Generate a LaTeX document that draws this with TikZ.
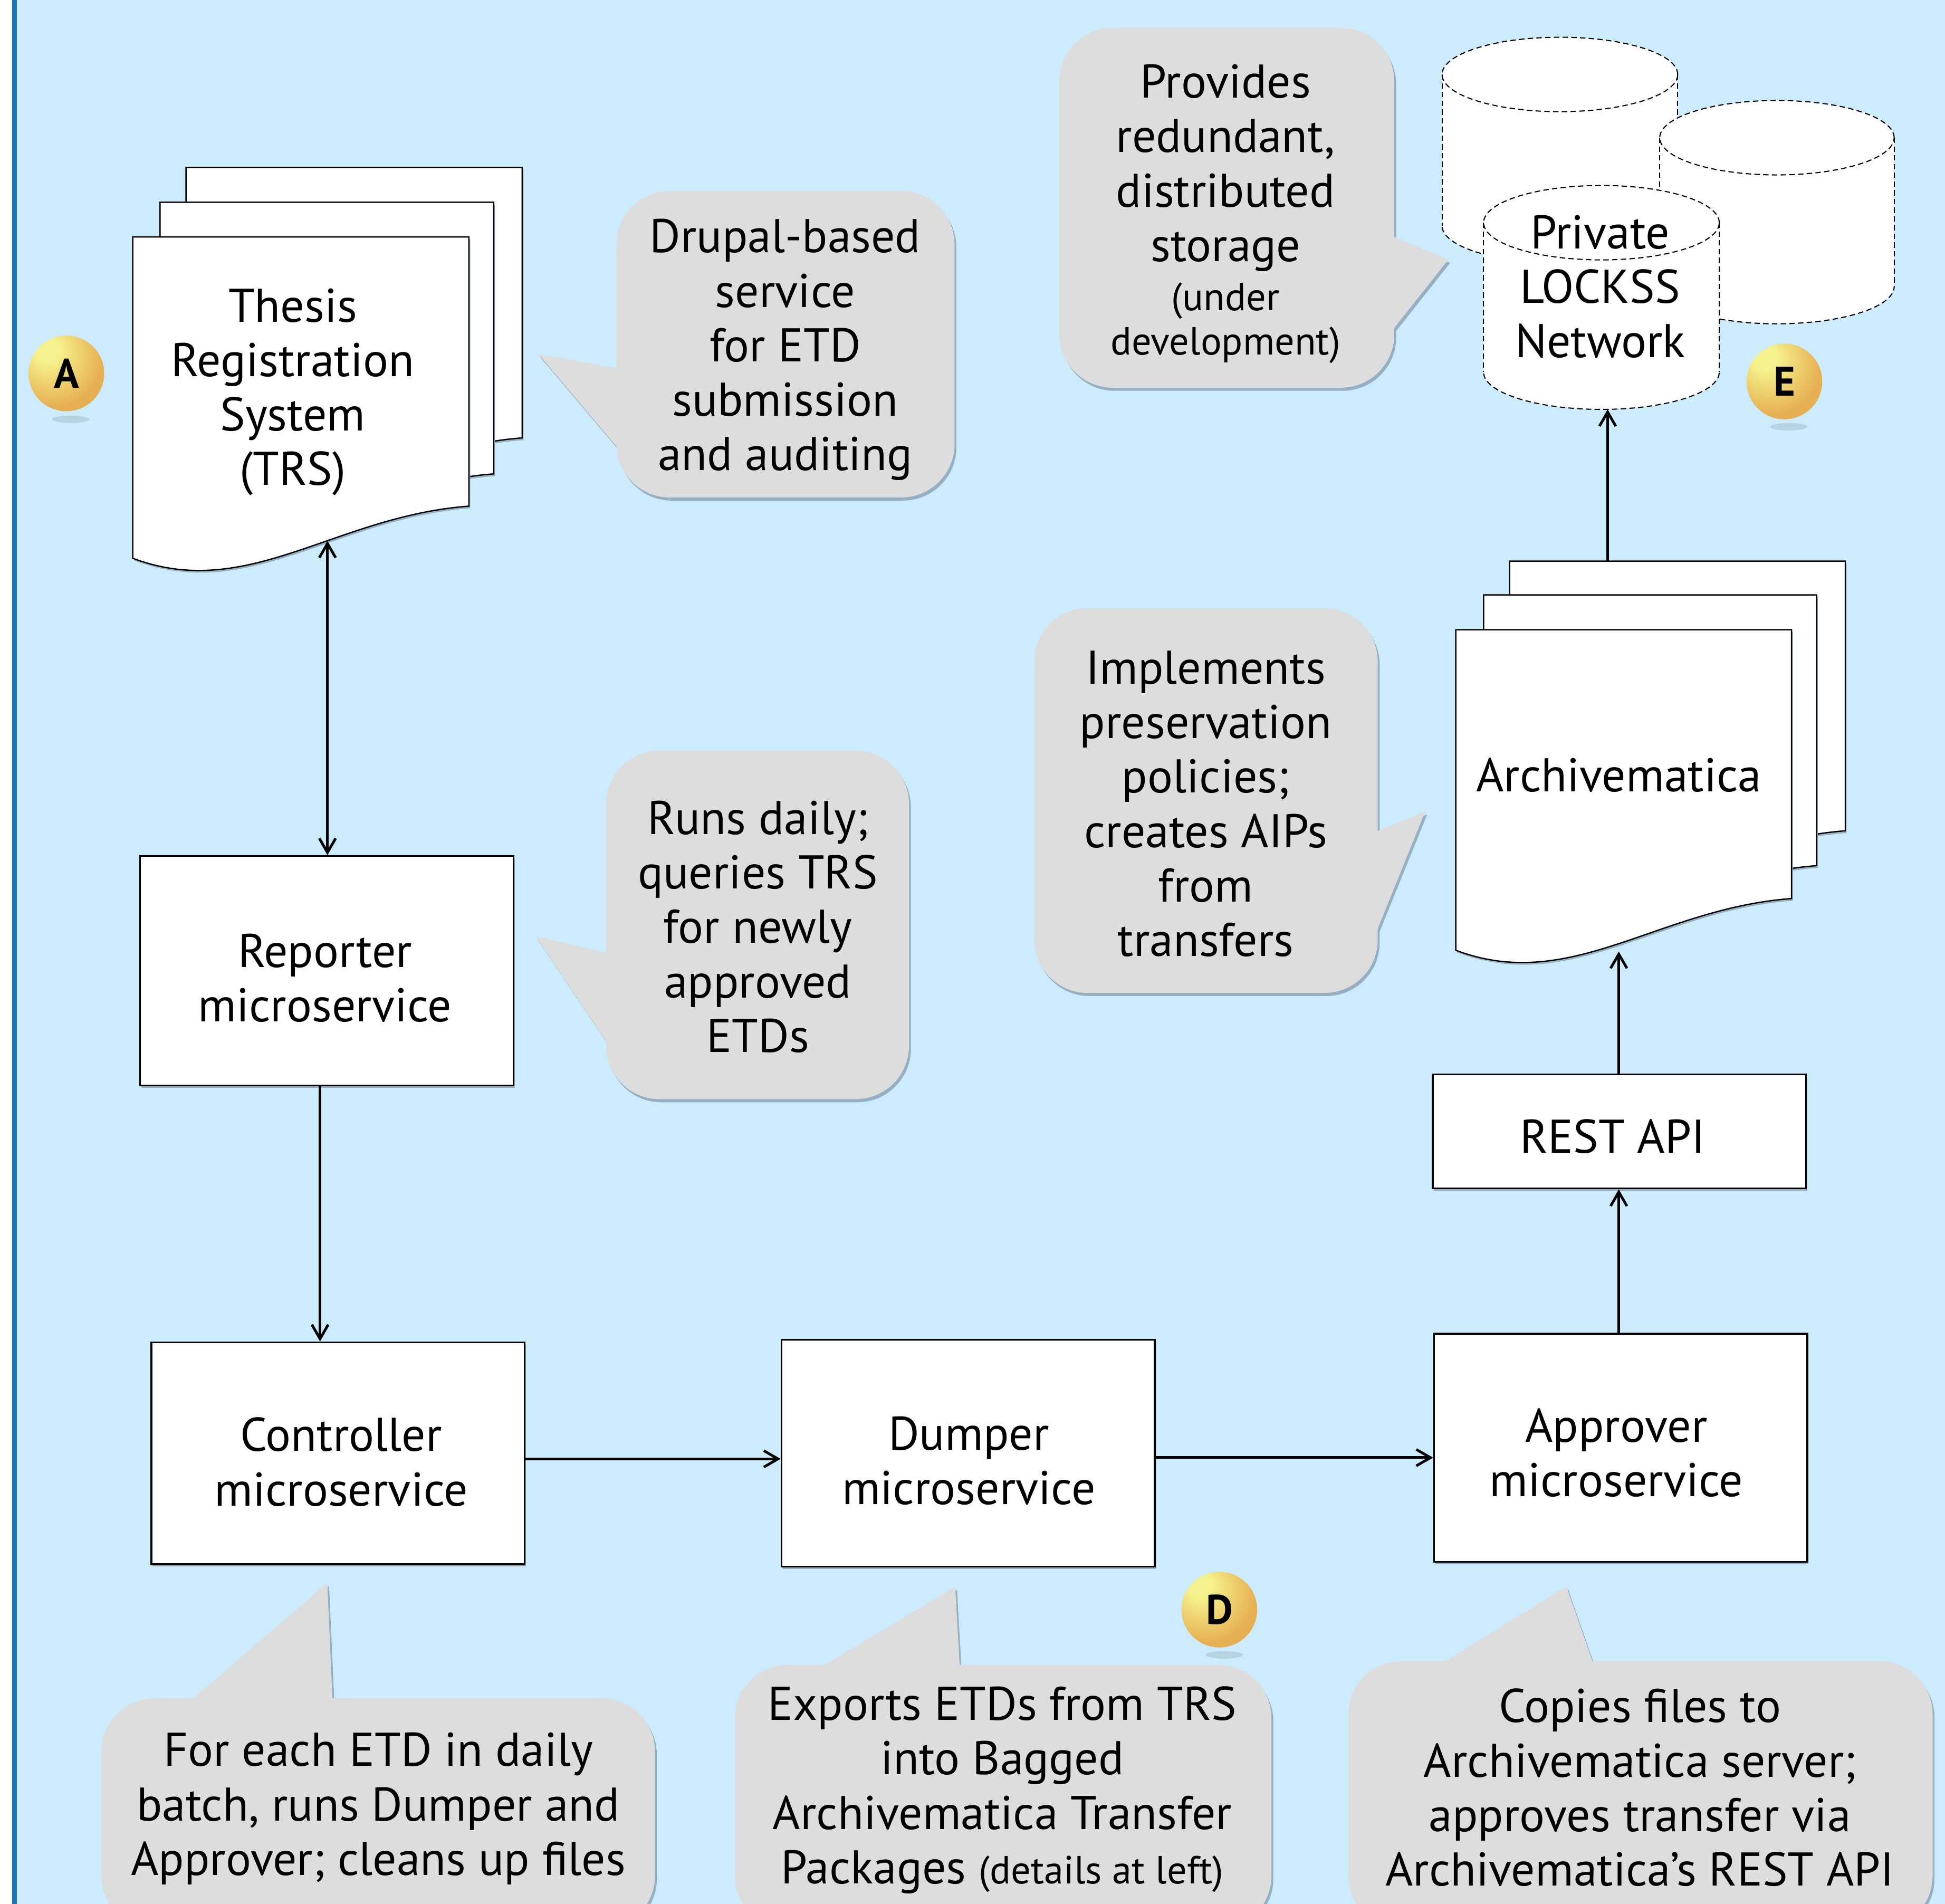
\documentclass[tikz,border=0pt]{standalone}
\usepackage{fontspec}
\setmainfont{PT Sans}
\usetikzlibrary{arrows.meta,shadows,calc}
\definecolor{bg}{RGB}{204,235,252}
\definecolor{edgeblue}{RGB}{27,117,190}
\definecolor{callg}{RGB}{221,221,221}
\definecolor{shadC}{RGB}{150,175,195}
\definecolor{bY}{RGB}{245,241,140}
\definecolor{bO}{RGB}{230,176,82}
\pgfdeclareradialshading{badgesh}{\pgfpoint{-14bp}{17bp}}{color(0bp)=(bY); color(8bp)=(bY); color(32bp)=(bO); color(80bp)=(bO)}
\newcommand\smallfs{\fontsize{18}{21}\selectfont}
% document page: x1, ytop, x2, y left-bottom, y right-bottom, style
\newcommand\docpage[6]{%
  \path[#6] (#1,#2) -- (#3,#2) -- (#3,#5)
    .. controls ({#1+0.6*(#3-#1)},{#5+8}) and ({#1+0.343*(#3-#1)},{#4+35}) .. (#1,#4) -- cycle;}
% callout: rectangle corners, pointer path
\newcommand\callout[3]{%
  \fill[shadC, rounded corners=0.86cm, xshift=0.03cm, yshift=-0.05cm] #1 rectangle #2;
  \fill[shadC, xshift=0.03cm, yshift=-0.05cm] #3;
  \fill[callg, rounded corners=0.86cm] #1 rectangle #2;
  \fill[callg] #3;}
\tikzset{
  every node/.style={font=\fontsize{21.7}{25}\selectfont, align=center, inner sep=0pt},
  arr/.style={line width=1.2pt, -{Straight Barb[length=6.5pt,width=7.5pt]}},
  arrboth/.style={line width=1.2pt, {Straight Barb[length=6.5pt,width=7.5pt]}-{Straight Barb[length=6.5pt,width=7.5pt]}},
  msbox/.style={draw=black, line width=0.8pt, fill=white,
    drop shadow={shadow xshift=0.6pt, shadow yshift=-1pt, fill=shadC, opacity=1}},
  docsh/.style={draw=black, line width=0.6pt, fill=white,
    drop shadow={shadow xshift=0.6pt, shadow yshift=-1pt, fill=shadC, opacity=1}},
  cylline/.style={draw=black, line width=0.5pt, dash pattern=on 2.5pt off 1.5pt},
  badge/.style={circle, minimum size=1.22cm, shading=badgesh,
    font=\fontsize{19}{19}\selectfont\bfseries},
}
\begin{document}
\begin{tikzpicture}[x=0.02cm, y=-0.02cm]
\path[use as bounding box] (0,0) rectangle (1568,1534.8);
\clip (0,0) rectangle (1568,1534.8);
% background
\fill[white] (0,0) rectangle (10,1534.8);
\fill[bg] (13,0) rectangle (1568,1534.8);
\fill[edgeblue] (9.8,0) rectangle (13.6,1534.8);

% callouts
\callout{(497,154)}{(769.5,401)}{(434,285.3) -- (497,296.9) -- (510,330) -- (497,359.9) -- cycle}
\callout{(854,22.4)}{(1124,312.5)}{(1124,191) -- (1167.5,209.4) -- (1124,264.3) -- (1110,230) -- cycle}
\callout{(833.8,490.3)}{(1110.7,800.4)}{(1110.7,670) -- (1149,654) -- (1110.7,748.5) -- (1098,710) -- cycle}
\callout{(488.6,605.2)}{(732.8,886)}{(488.6,768) -- (431.8,754.5) -- (488.6,839.4) -- (500,800) -- cycle}
\callout{(81.8,1369)}{(528,1555)}{(156,1369) -- (263.8,1276) -- (268,1369) -- (212,1380) -- cycle}
\callout{(592.5,1342)}{(1025,1555)}{(665,1342) -- (770,1279) -- (773.6,1342) -- (720,1352) -- cycle}
\callout{(1087,1339)}{(1558,1555)}{(1165.6,1339) -- (1262.7,1278.8) -- (1283.7,1339) -- (1225,1349) -- cycle}

% TRS document stack
\docpage{150}{135}{421}{395}{353}{docsh}
\docpage{129}{163}{398}{424}{382}{docsh}
\docpage{107}{191}{378}{450}{408}{docsh}
\node (trs) at (236,316) {Thesis\\Registration\\System\\(TRS)};
\coordinate (trsb) at (264,436);

% Archivematica document stack
\docpage{1217}{452.3}{1487.6}{712}{669.7}{docsh}
\docpage{1196}{479.5}{1464.5}{740}{697.8}{docsh}
\docpage{1173.6}{507.6}{1444.3}{766}{724.3}{docsh}
\node (arch) at (1305,625) {Archivematica};
\coordinate (archb) at (1305,767);
\coordinate (archtop) at (1296,452.3);

% cylinders
% back left
\fill[white] (1162.5,60) rectangle (1352.5,182);
\fill[white] (1257.5,182) ellipse [x radius=1.9cm, y radius=0.6cm];
\draw[cylline, fill=white] (1257.5,60) ellipse [x radius=1.9cm, y radius=0.6cm];
\draw[cylline] (1162.5,60) -- (1162.5,182);
\draw[cylline] (1352.5,60) -- (1352.5,182);
\begin{scope}
  \clip (1150,182) rectangle (1370,230);
  \draw[cylline] (1257.5,182) ellipse [x radius=1.9cm, y radius=0.6cm];
\end{scope}
% back right
\fill[white] (1338,111) rectangle (1527,231);
\fill[white] (1432.5,231) ellipse [x radius=1.89cm, y radius=0.6cm];
\draw[cylline, fill=white] (1432.5,111) ellipse [x radius=1.89cm, y radius=0.6cm];
\draw[cylline] (1338,111) -- (1338,231);
\draw[cylline] (1527,111) -- (1527,231);
\begin{scope}
  \clip (1320,231) rectangle (1540,270);
  \draw[cylline] (1432.5,231) ellipse [x radius=1.89cm, y radius=0.6cm];
\end{scope}
% front
\fill[white] (1196,179.5) rectangle (1386,300);
\fill[white] (1291,300) ellipse [x radius=1.9cm, y radius=0.6cm];
\draw[cylline, fill=white] (1291,179.5) ellipse [x radius=1.9cm, y radius=0.6cm];
\draw[cylline] (1196,179.5) -- (1196,300);
\draw[cylline] (1386,179.5) -- (1386,300);
\begin{scope}
  \clip (1180,300) rectangle (1400,340);
  \draw[cylline] (1291,300) ellipse [x radius=1.9cm, y radius=0.6cm];
\end{scope}
\node (lockss) at (1290,231) {Private\\LOCKSS\\Network};
\coordinate (lockssb) at (1296,330);

% microservice boxes
\node[msbox, minimum width=6.02cm, minimum height=3.7cm] (rep) at (263.5,782.5) {};
\node[msbox, minimum width=6.02cm, minimum height=3.58cm] (ctrl) at (272.5,1171.5) {};
\node[msbox, minimum width=6.02cm, minimum height=3.66cm] (dump) at (780.5,1171.5) {};
\node[msbox, minimum width=6.02cm, minimum height=3.68cm] (appr) at (1306.5,1167) {};
\node[msbox, minimum width=6.02cm, minimum height=1.84cm] (rest) at (1305.5,912) {};
\node (repT) at (262,788.5) {Reporter\\microservice};
\node (ctrlT) at (275,1178.5) {Controller\\microservice};
\node (dumpT) at (781,1177.5) {Dumper\\microservice};
\node (apprT) at (1303,1171) {Approver\\microservice};
\node (restT) at (1300,916) {REST API};

% connectors
\draw[arrboth] (trsb) -- (trsb |- rep.north);
\draw[arr] ([xshift=-0.11cm]rep.south) -- ([xshift=-0.11cm]rep.south |- ctrl.north);
\draw[arr] ([yshift=-0.09cm]ctrl.east) -- ([yshift=-0.09cm]ctrl.east -| dump.west);
\draw[arr] ([yshift=-0.07cm]dump.east) -- ([yshift=-0.07cm]dump.east -| appr.west);
\draw[arr] ([xshift=-0.03cm]appr.north) -- ([xshift=-0.03cm]appr.north |- rest.south);
\draw[arr] (archb |- rest.north) -- (archb);
\draw[arr] (archtop) -- (lockssb);

% callout texts
\node (t1) at (633,282) {Drupal-based\\service\\for ETD\\submission\\and auditing};
\node (t2) at (988,172.5) {Provides\\redundant,\\distributed\\storage\\[-2.5pt]{\smallfs (under}\\[-4.5pt]{\smallfs development)}};
\node (t3) at (972,648) {Implements\\preservation\\policies;\\creates AIPs\\from\\transfers};
\node (t4) at (611,747) {Runs daily;\\queries TRS\\for newly\\approved\\ETDs};
\node (t5) at (305,1458) {For each ETD in daily\\batch, runs Dumper and\\Approver; cleans up files};
\node (t6) at (808,1443) {Exports ETDs from TRS\\into Bagged\\Archivematica Transfer\\Packages {\smallfs (details at left)}};
\node (t7) at (1322,1441) {Copies files to\\Archivematica server;\\approves transfer via\\Archivematica’s REST API};

% badges
\fill[black, opacity=0.10] (57,338) ellipse [x radius=0.3cm, y radius=0.06cm];
\fill[black, opacity=0.10] (1442,344) ellipse [x radius=0.3cm, y radius=0.06cm];
\fill[black, opacity=0.10] (987,1334) ellipse [x radius=0.3cm, y radius=0.06cm];
\node[badge] (bA) at (53.5,301) {A};
\node[badge] (bE) at (1438.5,307.5) {E};
\node[badge] (bD) at (983,1297.5) {D};
\end{tikzpicture}
\end{document}
